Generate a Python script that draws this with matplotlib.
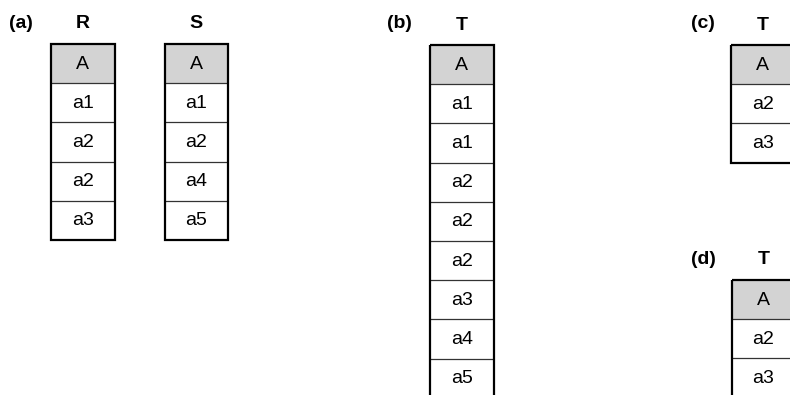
import matplotlib
matplotlib.use("Agg")
import matplotlib.pyplot as plt
from matplotlib.patches import Rectangle

plt.rcParams['font.family'] = ['Liberation Sans', 'DejaVu Sans']

# --- table contents ---
col_name = "A"
R_rows = ["a1", "a2", "a2", "a3"]
S_rows = ["a1", "a2", "a4", "a5"]
Tb_rows = ["a1", "a1", "a2", "a2", "a2", "a3", "a4", "a5"]
Tc_rows = ["a2", "a3"]
Td_rows = ["a2", "a3"]

# panel labels and table names
panel_labels = ["(a)", "(b)", "(c)", "(d)"]

ROW_H = 39.2
COL_W = 63.5
HEADER_COLOR = "#d3d3d3"


def draw_table(ax, x0, y0, name, rows):
    """x0,y0 = top-left corner in pixel coords (y downwards)"""
    cells = [col_name] + rows
    for i, txt in enumerate(cells):
        y = y0 + i * ROW_H
        fc = HEADER_COLOR if i == 0 else "white"
        ax.add_patch(Rectangle((x0, y), COL_W, ROW_H, facecolor=fc,
                               edgecolor="none", zorder=1))
        ax.text(x0 + COL_W / 2, y + ROW_H / 2 + 0.5, txt, ha="center",
                va="center", fontsize=14, zorder=3)
        if i > 0:
            ax.plot([x0, x0 + COL_W], [y, y], color="#333333", lw=0.9,
                    zorder=2, solid_capstyle="butt")
    h = ROW_H * len(cells)
    ax.add_patch(Rectangle((x0, y0), COL_W, h, facecolor="none",
                           edgecolor="black", lw=1.6, zorder=4))
    ax.text(x0 + COL_W / 2, y0 - 20, name, ha="center", va="center",
            fontsize=14, fontweight="bold")


fig = plt.figure(figsize=(7.9, 3.95), dpi=100)
ax = fig.add_axes([0, 0, 1, 1])
ax.set_xlim(0, 790)
ax.set_ylim(395, 0)
ax.axis("off")

draw_table(ax, 51, 44, "R", R_rows)
draw_table(ax, 164.5, 44, "S", S_rows)
draw_table(ax, 430, 45, "T", Tb_rows)
draw_table(ax, 731, 45, "T", Tc_rows)
draw_table(ax, 731.5, 280, "T", Td_rows)

label_pos = [(20.5, 24), (399, 24), (703, 24), (703, 259)]
for lab, (x, y) in zip(panel_labels, label_pos):
    ax.text(x, y, lab, ha="center", va="center", fontsize=14,
            fontweight="bold")

fig.savefig("out.png", dpi=100)
